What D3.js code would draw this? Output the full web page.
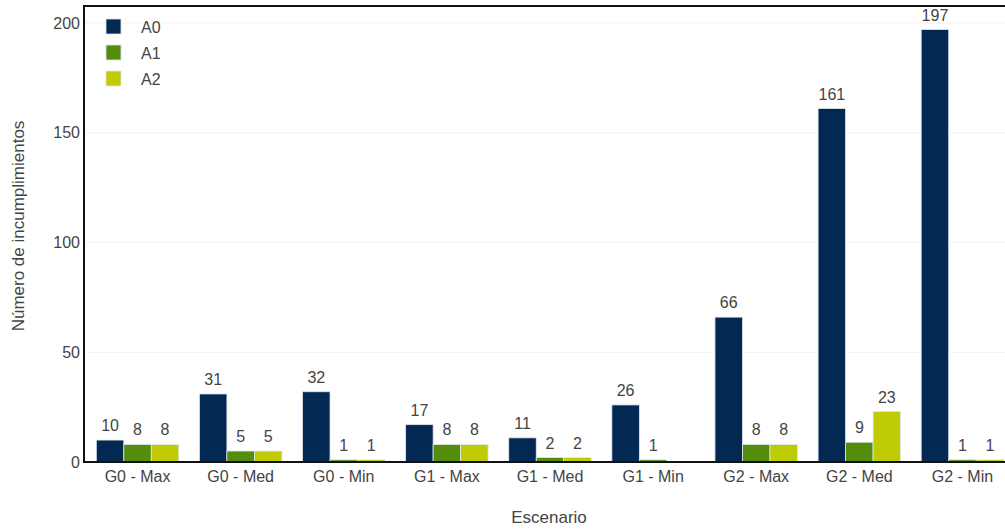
<!DOCTYPE html>
<html><head><meta charset="utf-8">
<script src="https://cdn.jsdelivr.net/npm/d3@7"></script>
<style>
body{margin:0;background:#fff;}
text{font-family:"Liberation Sans",Arial,sans-serif;}
</style></head>
<body><svg id="c" width="1005" height="529"></svg>
<script>
const categories = ["G0 - Max","G0 - Med","G0 - Min","G1 - Max","G1 - Med","G1 - Min","G2 - Max","G2 - Med","G2 - Min"];
const seriesNames = ["A0","A1","A2"];
const A0 = [10,31,32,17,11,26,66,161,197];
const A1 = [8,5,1,8,2,1,8,9,1];
const A2 = [8,5,1,8,2,0,8,23,1];
const yTicks = [0,50,100,150,200];
const colors = ["#032852","#548c0c","#bfcc05"];

(function(){
const series = [A0,A1,A2];
const svg = d3.select("#c");
const mL = 84, mT = 5, mB = 462, mR = 1012;
const x = d3.scaleBand().domain(categories).range([mL+2, mR+2]).paddingInner(0.2).paddingOuter(0.1);
const xs = d3.scaleBand().domain(seriesNames).range([0, x.bandwidth()]);
const y = d3.scaleLinear().domain([0, 208.2]).range([mB, mT]);

// grid
svg.append("g").selectAll("line").data(yTicks.filter(d=>d>0)).join("line")
  .attr("x1", mL).attr("x2", 1005).attr("y1", d=>y(d)).attr("y2", d=>y(d))
  .attr("stroke", "#f2f2f2").attr("stroke-width", 1);

// bars
const g = svg.append("g");
categories.forEach((c, i) => {
  series.forEach((s, j) => {
    const v = s[i];
    if (v > 0) {
      g.append("rect")
        .attr("x", x(c) + xs(seriesNames[j]))
        .attr("y", y(v))
        .attr("width", xs.bandwidth())
        .attr("height", y(0) - y(v))
        .attr("fill", colors[j])
        .attr("stroke", "#dfe6ee").attr("stroke-width", 0.8);
      g.append("text")
        .attr("x", x(c) + xs(seriesNames[j]) + xs.bandwidth()/2)
        .attr("y", y(v) - 9)
        .attr("text-anchor", "middle")
        .attr("font-size", 16).attr("fill", "#444")
        .text(v);
    }
  });
});

// axes
const ya = svg.append("g").attr("transform", `translate(${mL},0)`)
  .call(d3.axisLeft(y).tickValues(yTicks).tickSize(0).tickPadding(4));
ya.select(".domain").remove();
ya.selectAll("text").attr("font-size", 16).attr("fill", "#444").attr("font-family", "Liberation Sans, Arial, sans-serif");

const xa = svg.append("g").attr("transform", `translate(0,${mB})`)
  .call(d3.axisBottom(x).tickSize(0).tickPadding(9));
xa.select(".domain").remove();
xa.selectAll("text").attr("font-size", 16).attr("fill", "#444").attr("font-family", "Liberation Sans, Arial, sans-serif");

// frame lines
svg.append("line").attr("x1", mL).attr("x2", 1005).attr("y1", mB).attr("y2", mB).attr("stroke", "#111").attr("stroke-width", 2);
svg.append("line").attr("x1", mL).attr("x2", mL).attr("y1", mT).attr("y2", mB+1).attr("stroke", "#111").attr("stroke-width", 2);
svg.append("line").attr("x1", mL-1).attr("x2", 1005).attr("y1", mT+1).attr("y2", mT+1).attr("stroke", "#111").attr("stroke-width", 2);

// titles
svg.append("text").attr("x", 549).attr("y", 523).attr("text-anchor", "middle")
  .attr("font-size", 17).attr("fill", "#444").text("Escenario");
svg.append("text").attr("transform", "translate(24,226) rotate(-90)").attr("text-anchor", "middle")
  .attr("font-size", 17).attr("fill", "#444").text("Número de incumplimientos");

// legend
const lg = svg.append("g");
seriesNames.forEach((n, j) => {
  lg.append("rect").attr("x", 106).attr("y", 19 + j*26).attr("width", 15).attr("height", 15)
    .attr("fill", colors[j]).attr("stroke", "#dfe6ee").attr("stroke-width", 0.8);
  lg.append("text").attr("x", 141).attr("y", 27 + j*26).attr("dy", "0.35em")
    .attr("font-size", 16).attr("fill", "#444").text(n);
});
})();
</script></body></html>
